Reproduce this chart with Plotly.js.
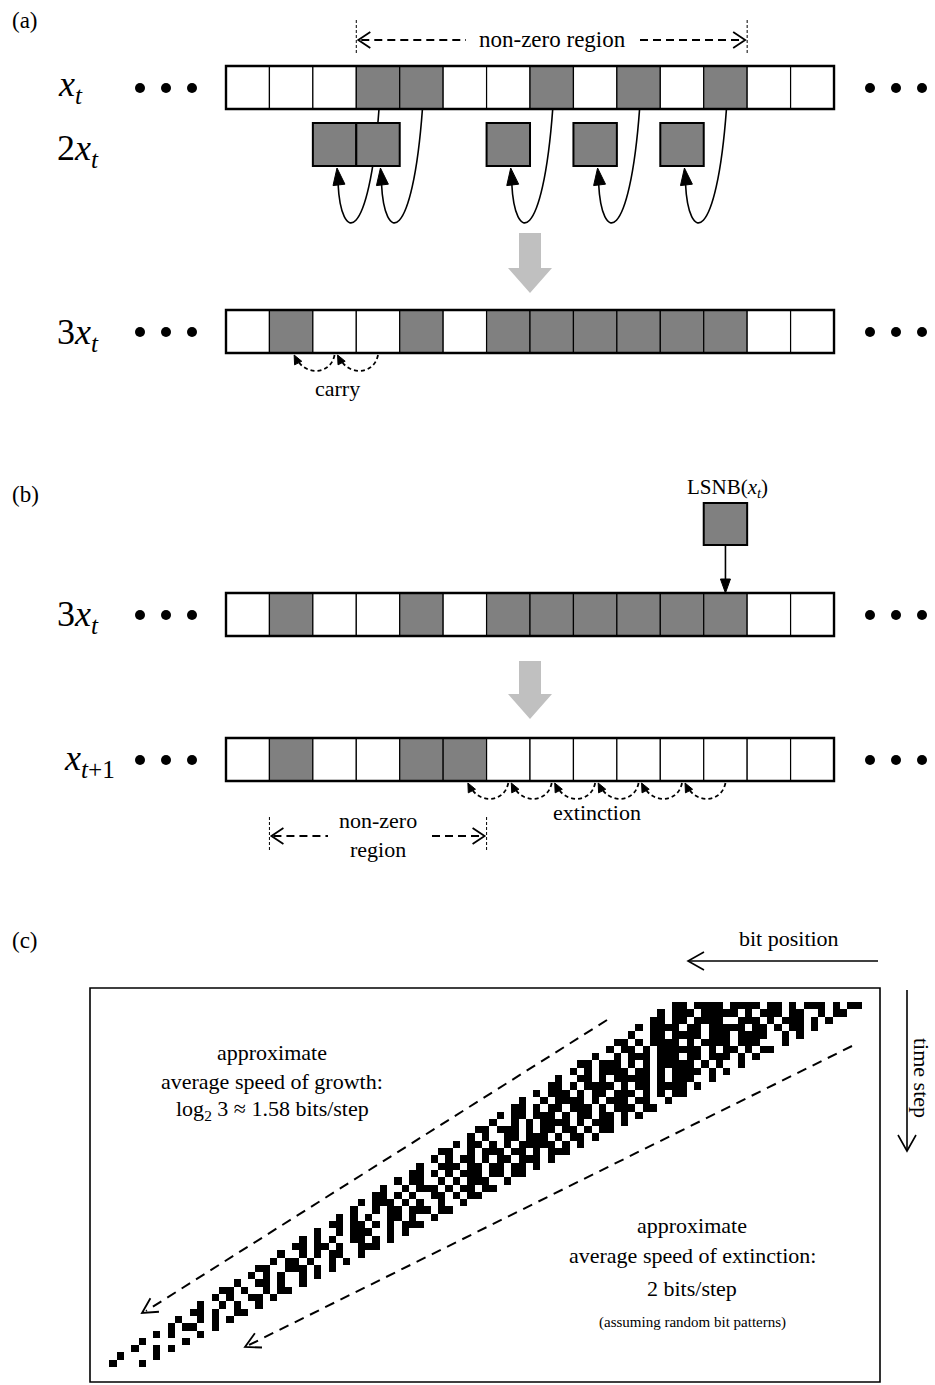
<!DOCTYPE html>
<html><head><meta charset="utf-8">
<script src="https://cdn.plot.ly/plotly-3.0.1.min.js"></script>
<style>html,body{margin:0;padding:0;background:#fff;} #chart{width:935px;height:1385px;}</style>
</head><body><div id="chart"></div>
<script>
// ---------- data ----------
const xtBits      = [0,0,0,1,1,0,0,1,0,1,0,1,0,0];
const twoXtBits   = [0,0,1,1,0,0,1,0,1,0,1,0,0,0];
const threeXtBits = [0,1,0,0,1,0,1,1,1,1,1,1,0,0];
const xtNextBits  = [0,1,0,0,1,1,0,0,0,0,0,0,0,0];
const lsnbCol = 11;
const carryFrom = [3,2];
const extinctionFrom = [11,10,9,8,7,6];
const nonZeroA = [3,11];
const nonZeroB = [1,5];
// pattern of panel (c): leftmost column of each row and the bits from there
const patternLeft = [78,76,75,73,72,70,69,67,65,64,62,61,59,57,56,54,53,51,50,48,46,45,43,42,40,38,37,35,34,32,31,29,27,26,24,23,21,20,18,16,15,13,12,10,9,7,5,4,2,1];
const patternBits = [
"##.####.####.##.#.###.#.##",
"#.###.#####.#.###.##..#.##",
"##.##.####..###.#.###.#.#",
"#.####.##.#####.##.#.##.#",
"#..##.####.###.####..#.#",
"##.#.####.#.####.###...#",
"#.##.#.######.#.##.#.##",
"#..#.###.###.##.###.#.#",
"##.###.#.#.#####.#.#..#",
"#.#.####.##.#.####.#.#",
"#..##.#.#####.#.###..#",
"##.#.####.#.##.####.#",
"#.###.#.##.###.#.#.##",
"#..#.####.#.###.##..#",
"##.#.##.###.#.###.##",
"#.##.###.#.##.##.#.#",
"#..#.#.####.#.###.#",
"##.###.#.##.##.#.##",
"#.#..##.###.#.##.#",
"#.##.#.#.#####.#.#",
"##..#.###.##.#.###",
"#.#.##.#.##.###.#",
"#..###.##.##.##.#",
"##.#.#.###.##.##",
"#.##..#.#.###..#",
"#..#.###.#.##.##",
"##.#.#..##.#.##",
"#.###.#.#..#..#",
"#..#.##.###.##",
"#.#.#..##.#..#",
"##.##.#.#.###",
"#..#.###..#.#",
"#.#.#..##.#.#",
"##.##.#..###",
"#..#.#.##..#",
"#.##.#..#.#",
"##..###.#.#",
"#.#.#..#.#",
"#..##.#..#",
"##.#..#.##",
"#.#..##.#",
"#..#.#..#",
"##.#..##",
"#..#.#.#",
"#.##..#",
"#.#...#",
"#.....#",
"#..#.#",
"#....#",
"#...#"
];

// ---------- geometry ----------
const CX0 = 226, CW = 43.43, CH = 43;
const cx = c => CX0 + CW*(c+0.5);
const FONT = "Liberation Serif, Times New Roman, serif";
const GRAY = '#808080';
const GX0 = 102, GW = 7.31, GY0 = 1002, GH = 7.3, GCOLS = 104;

const shapes = [];
const ann = [];
function path(d, opt){ shapes.push(Object.assign({type:'path', xref:'x', yref:'y', path:d, line:{color:'#000', width:1.5}}, opt||{})); }
function line(x0,y0,x1,y1,opt){ shapes.push(Object.assign({type:'line', xref:'x', yref:'y', x0,y0,x1,y1, line:{color:'#000', width:1.5}}, opt||{})); }
function rect(x0,y0,x1,y1,fill,w){ shapes.push({type:'rect', xref:'x', yref:'y', x0,y0,x1,y1, fillcolor:fill, line:{color:'#000', width:w}}); }
function chevron(tx,ty,fx,fy,len,half){
  const dx=fx-tx, dy=fy-ty, d=Math.hypot(dx,dy), ux=dx/d, uy=dy/d;
  const bx=tx+ux*len, by=ty+uy*len, px=-uy*half, py=ux*half;
  return `M${bx+px},${by+py} L${tx},${ty} L${bx-px},${by-py}`;
}
function tri(tx,ty,fx,fy,len,half){ return chevron(tx,ty,fx,fy,len,half) + ' Z'; }
function text(x,y,t,size,opt){ ann.push(Object.assign({x,y,xref:'x',yref:'y',text:t,showarrow:false,font:{family:FONT,size:size,color:'#000'},xanchor:'center',yanchor:'middle'}, opt||{})); }

function bitRow(bits, y0){
  for(let i=0;i<bits.length;i++){
    rect(CX0+CW*i, y0, CX0+CW*(i+1), y0+CH, bits[i]?GRAY:'#fff', 1.2);
  }
  rect(CX0, y0, CX0+CW*bits.length, y0+CH, 'rgba(0,0,0,0)', 2.4);
}
function grayArrow(xc, yTop, yNeck, yTip){
  path(`M${xc-11},${yTop} L${xc+11},${yTop} L${xc+11},${yNeck} L${xc+22},${yNeck} L${xc},${yTip} L${xc-22},${yNeck} L${xc-11},${yNeck} Z`, {fillcolor:'#c0c0c0', line:{width:0, color:'#c0c0c0'}});
}
function dashedArcs(fromCols, yTop, depth){
  fromCols.forEach(k=>{
    const s = cx(k), e = cx(k-1)+3;
    path(`M${s},${yTop+2} C${s-4},${yTop+depth+6} ${e+12},${yTop+depth+6} ${e+4},${yTop+8}`, {line:{color:'#000', width:1.8, dash:'4px,3px'}});
    path(tri(e, yTop+2, e+4, yTop+10, 9, 4), {fillcolor:'#000', line:{color:'#000', width:1}});
  });
}
function dots(y){ return {x:[140,166,192,870,896,922], y:[y,y,y,y,y,y]}; }

// ---------- panel (a) ----------
text(25, 20, '(a)', 23);
line(cx(nonZeroA[0])-CW/2, 20, cx(nonZeroA[0])-CW/2, 54, {line:{color:'#000', width:1, dash:'3px,2px'}});
line(cx(nonZeroA[1])+CW/2, 20, cx(nonZeroA[1])+CW/2, 54, {line:{color:'#000', width:1, dash:'3px,2px'}});
{
  const l = cx(nonZeroA[0])-CW/2+2, r = cx(nonZeroA[1])+CW/2-2, y=40;
  line(l+3, y, 466, y, {line:{color:'#000', width:2, dash:'8px,5px'}});
  line(640, y, r-3, y, {line:{color:'#000', width:2, dash:'8px,5px'}});
  path(chevron(l,y,l+20,y,12,8), {line:{color:'#000', width:1.8}});
  path(chevron(r,y,r-20,y,12,8), {line:{color:'#000', width:1.8}});
  text(552, 39, 'non-zero region', 23);
}
// curves from x_t to 2x_t (drawn first so boxes cover them)
xtBits.forEach((b,c)=>{
  if(!b) return;
  const s = cx(c)+1, e = cx(c)-40;
  path(`M${s},109 C${s-10},245 ${e+3},245 ${e},183`, {line:{color:'#000', width:1.6}});
  path(tri(e-1,168,e+1,185,17,6), {fillcolor:'#000', line:{color:'#000', width:1}});
});
bitRow(xtBits, 66);
twoXtBits.forEach((b,i)=>{ if(b) rect(CX0+CW*i, 123, CX0+CW*(i+1), 166, GRAY, 2); });
text(70, 86, '<i>x</i><sub><i>t</i></sub>', 36);
text(78, 150, '2<i>x</i><sub><i>t</i></sub>', 36);
grayArrow(530, 233, 268, 293);
bitRow(threeXtBits, 310);
text(78, 334, '3<i>x</i><sub><i>t</i></sub>', 36);
dashedArcs(carryFrom, 353, 16);
text(337, 388, 'carry', 22);

// ---------- panel (b) ----------
text(25, 494, '(b)', 23);
text(cx(lsnbCol)+2, 488, 'LSNB(<i>x</i><sub><i>t</i></sub>)', 21);
rect(CX0+CW*lsnbCol, 503, CX0+CW*(lsnbCol+1), 545, GRAY, 2);
line(cx(lsnbCol), 545, cx(lsnbCol), 580, {line:{color:'#000', width:1.6}});
path(tri(cx(lsnbCol),593,cx(lsnbCol),570,14,5), {fillcolor:'#000', line:{color:'#000', width:1}});
bitRow(threeXtBits, 593);
text(78, 616, '3<i>x</i><sub><i>t</i></sub>', 36);
grayArrow(530, 661, 694, 719);
bitRow(xtNextBits, 738);
text(89, 760, '<i>x</i><sub><i>t</i>+1</sub>', 36);
dashedArcs(extinctionFrom, 781, 16);
text(597, 812, 'extinction', 22);
{
  const l = CX0+CW*nonZeroB[0], r = CX0+CW*(nonZeroB[1]+1), y = 836;
  line(l, 817, l, 851, {line:{color:'#000', width:1, dash:'3px,2px'}});
  line(r, 817, r, 851, {line:{color:'#000', width:1, dash:'3px,2px'}});
  line(l+4, y, 328, y, {line:{color:'#000', width:2, dash:'8px,5px'}});
  line(432, y, r-4, y, {line:{color:'#000', width:2, dash:'8px,5px'}});
  path(chevron(l+2,y,l+22,y,12,8), {line:{color:'#000', width:1.8}});
  path(chevron(r-2,y,r-22,y,12,8), {line:{color:'#000', width:1.8}});
  text((l+r)/2, 820, 'non-zero', 22);
  text((l+r)/2, 849, 'region', 22);
}

// ---------- panel (c) ----------
text(25, 940, '(c)', 23);
text(789, 938, 'bit position', 22);
line(878, 961, 689, 961, {line:{color:'#000', width:1.6}});
path(chevron(688,961,700,961,16,9), {line:{color:'#000', width:1.6}});
rect(90, 988, 880, 1382, 'rgba(0,0,0,0)', 1.6);
text(922, 1078, 'time step', 22, {textangle:90});
line(907, 990, 907, 1150, {line:{color:'#000', width:1.6}});
path(chevron(907,1151,907,1140,16,9), {line:{color:'#000', width:1.6}});
text(272, 1052, 'approximate', 22);
text(272, 1081, 'average speed of growth:', 22);
text(272, 1110, 'log<sub>2</sub> 3 ≈ 1.58 bits/step', 22);
text(692, 1225, 'approximate', 22);
text(692, 1255, 'average speed of extinction:', 22);
text(692, 1288, '2 bits/step', 22);
text(692, 1322, '(assuming random bit patterns)', 15);
line(607, 1020, 146, 1311, {line:{color:'#000', width:2, dash:'10px,7px'}});
path(chevron(142,1313,607,1020,15,8), {line:{color:'#000', width:1.8}});
line(852, 1046, 249, 1345, {line:{color:'#000', width:2, dash:'10px,7px'}});
path(chevron(245,1347,852,1046,15,8), {line:{color:'#000', width:1.8}});

// pattern grid
const z = [];
patternBits.forEach((s,r)=>{
  const row = new Array(GCOLS).fill(null);
  for(let i=0;i<s.length;i++){ if(s[i]==='#'){ const c = patternLeft[r]+i; if(c>=0 && c<GCOLS) row[c]=1; } }
  z.push(row);
});

const d1 = dots(88), d2 = dots(332), d3 = dots(615), d4 = dots(760);
const traces = [
  {type:'heatmap', z:z, x0:GX0+GW/2, dx:GW, y0:GY0+GH/2, dy:GH, zmin:0, zmax:1,
   colorscale:[[0,'#000'],[1,'#000']], showscale:false, zsmooth:false, hoverinfo:'skip'},
  {type:'scatter', mode:'markers', x:[].concat(d1.x,d2.x,d3.x,d4.x), y:[].concat(d1.y,d2.y,d3.y,d4.y),
   marker:{color:'#000', size:10}, hoverinfo:'skip'}
];
const layout = {
  width:935, height:1385, margin:{l:0,r:0,t:0,b:0},
  paper_bgcolor:'#fff', plot_bgcolor:'#fff', showlegend:false,
  xaxis:{range:[0,935], visible:false, fixedrange:true},
  yaxis:{range:[1385,0], visible:false, fixedrange:true},
  shapes:shapes, annotations:ann
};
Plotly.newPlot('chart', traces, layout, {staticPlot:true, displayModeBar:false});
</script></body></html>
